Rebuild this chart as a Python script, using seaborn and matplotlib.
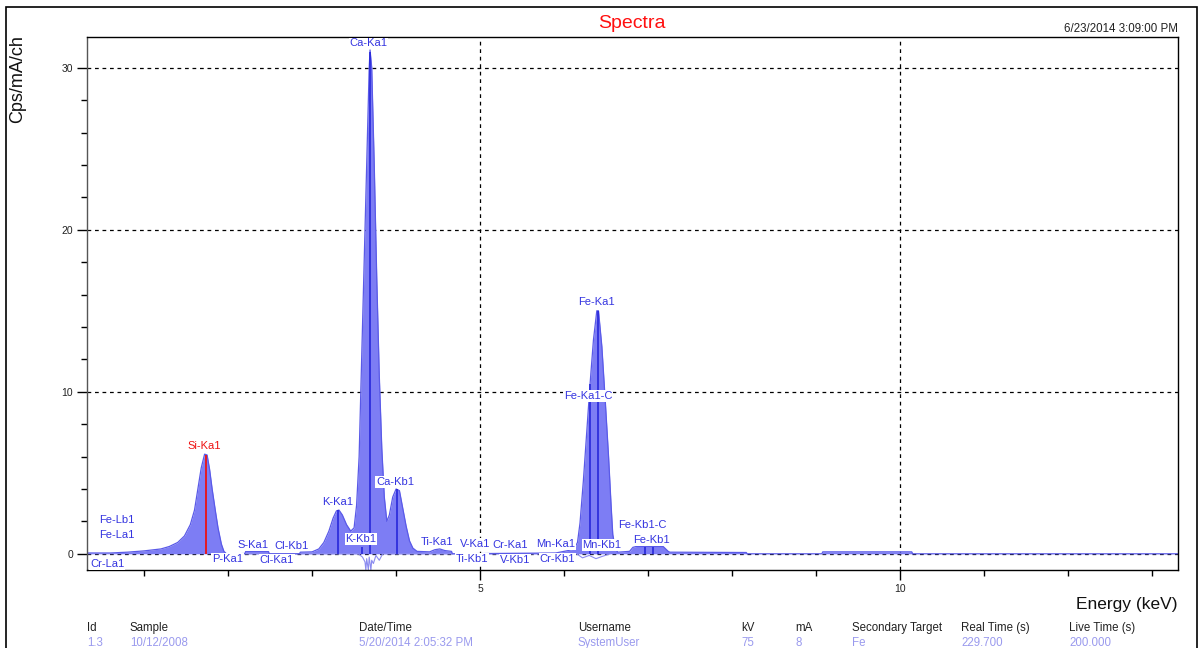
import numpy as np
import pandas as pd
import matplotlib
matplotlib.use("Agg")
import matplotlib.pyplot as plt
import matplotlib.patches as mpatches
from matplotlib.ticker import MultipleLocator, FixedLocator
import seaborn as sns

# ---------------- data ----------------
energy = [0.32, 0.60, 0.80, 1.00, 1.20, 1.30, 1.40, 1.48, 1.55, 1.60, 1.64, 1.68,
          1.72, 1.75, 1.78, 1.81, 1.85, 1.88, 1.92, 1.95, 1.98, 2.05, 2.10, 2.20,
          2.21, 2.48, 2.49, 2.85, 2.86, 3.00, 3.08, 3.14, 3.20, 3.25, 3.29, 3.32,
          3.36, 3.41, 3.46, 3.50, 3.53, 3.56, 3.58, 3.62, 3.65, 3.68, 3.69, 3.71,
          3.74, 3.77, 3.80, 3.83, 3.86, 3.89, 3.92, 3.96, 4.00, 4.04, 4.08, 4.12,
          4.16, 4.20, 4.25, 4.40, 4.46, 4.52, 4.58, 4.66, 4.67, 5.90, 6.05, 6.12,
          6.16, 6.19, 6.23, 6.27, 6.31, 6.35, 6.39, 6.41, 6.45, 6.49, 6.53, 6.56,
          6.58, 6.61, 6.64, 6.78, 6.82, 6.86, 7.18, 7.24, 7.26, 8.17, 8.18, 9.07,
          9.08, 10.14, 10.15, 13.31]
counts = [0.05, 0.05, 0.10, 0.18, 0.30, 0.45, 0.70, 1.10, 1.80, 2.70, 4.00, 5.30,
          6.15, 6.10, 5.20, 4.00, 2.60, 1.60, 0.60, 0.15, 0.00, 0.00, 0.00, 0.02,
          0.15, 0.15, 0.00, 0.00, 0.10, 0.12, 0.30, 0.70, 1.40, 2.20, 2.65, 2.70,
          2.40, 1.80, 1.40, 1.60, 3.00, 6.00, 10.0, 18.0, 24.0, 30.0, 31.1, 30.0,
          24.0, 17.0, 11.0, 6.50, 3.50, 2.00, 2.40, 3.50, 4.00, 3.90, 2.80, 1.70,
          0.80, 0.35, 0.15, 0.12, 0.25, 0.30, 0.20, 0.15, 0.00, 0.05, 0.20, 0.30,
          0.70, 1.90, 4.50, 7.50, 10.5, 13.2, 15.0, 15.0, 12.8, 9.50, 6.00, 3.00,
          1.20, 0.30, 0.10, 0.15, 0.40, 0.45, 0.45, 0.15, 0.10, 0.08, 0.00, 0.00,
          0.12, 0.12, 0.00, 0.00]

residual_energy = [1.93, 1.96, 1.98, 2.00, 2.02, 2.05, 2.08, 3.55, 3.60, 3.63, 3.64,
                   3.65, 3.67, 3.68, 3.70, 3.71, 3.73, 3.76, 3.80, 3.84, 6.15, 6.22,
                   6.30, 6.38, 6.46, 6.55]
residual_counts = [0.00, -0.25, -0.05, -0.30, -0.10, -0.25, 0.00, 0.00, -0.20, -0.50,
                   -1.00, -0.30, -1.00, -0.20, -1.00, -0.40, -0.60, -0.10, -0.40, 0.00,
                   0.00, -0.25, -0.10, -0.30, -0.15, 0.00]

marker_energy = [3.31, 3.60, 3.69, 4.01, 6.31, 6.40, 6.96, 7.06]
marker_height = [2.70, 0.40, 31.0, 4.00, 10.5, 15.0, 0.45, 0.45]
si_energy = [1.74]
si_height = [6.10]

label_text = ["Ca-Ka1", "Si-Ka1", "Fe-Lb1", "Fe-La1", "Cr-La1", "P-Ka1", "S-Ka1",
              "Cl-Kb1", "Cl-Ka1", "K-Ka1", "K-Kb1", "Ca-Kb1", "Ti-Ka1", "Ti-Kb1",
              "V-Ka1", "V-Kb1", "Cr-Ka1", "Cr-Kb1", "Mn-Ka1", "Mn-Kb1", "Fe-Ka1",
              "Fe-Ka1-C", "Fe-Kb1-C", "Fe-Kb1"]
label_energy = [3.67, 1.71, 0.68, 0.68, 0.56, 1.99, 2.30, 2.75, 2.58, 3.30, 3.58,
                3.99, 4.49, 4.90, 4.94, 5.42, 5.36, 5.92, 5.90, 6.45, 6.39, 6.29,
                6.93, 7.04]
label_level = [31.5, 6.67, 2.10, 1.17, -0.62, -0.31, 0.56, 0.50, -0.37, 3.21, 0.92,
               4.44, 0.74, -0.31, 0.62, -0.37, 0.56, -0.31, 0.62, 0.56, 15.56,
               9.75, 1.79, 0.86]

info_headers = ["Id", "Sample", "Date/Time", "Username", "kV", "mA",
                "Secondary Target", "Real Time (s)", "Live Time (s)"]
info_values = ["1.3", "10/12/2008", "5/20/2014 2:05:32 PM", "SystemUser", "75", "8",
               "Fe", "229.700", "200.000"]
info_x_px = [87, 130, 359, 578, 741, 795, 852, 961, 1069]

# ---------------- figure ----------------
sns.set_theme(style="white")
plt.rcParams["font.family"] = ["Liberation Sans", "DejaVu Sans"]

W, H = 1203, 648
fig = plt.figure(figsize=(W / 100, H / 100), dpi=100)
ax = fig.add_axes([87 / W, 1 - 570 / H, (1178 - 87) / W, (570 - 37) / H])

FILL = "#7d7df4"
EDGE = "#5a5ae8"
LINE = "#2020d8"
TXT = "#3434e0"

df = pd.DataFrame({"energy": energy, "counts": counts})
res = pd.DataFrame({"energy": residual_energy, "counts": residual_counts})

ax.fill_between(df["energy"], 0, df["counts"], color=FILL, lw=0, zorder=2)
sns.lineplot(data=df, x="energy", y="counts", sort=False, estimator=None,
             color=EDGE, lw=0.9, ax=ax, zorder=3)
sns.lineplot(data=res, x="energy", y="counts", sort=False, estimator=None,
             color="#8c8cf0", lw=0.8, ax=ax, zorder=2)

ax.vlines(marker_energy, 0, marker_height, color=LINE, lw=1.1, zorder=4)
ax.vlines(si_energy, 0, si_height, color="#ee1111", lw=1.3, zorder=4)

for t, e, l in zip(label_text, label_energy, label_level):
    col = "#ee1111" if t == "Si-Ka1" else TXT
    ax.text(e, l, t, color=col, fontsize=8, ha="center", va="center", zorder=6,
            clip_on=False,
            bbox=dict(facecolor="white", edgecolor="none", pad=0.6))

ax.set_xlim(0.32, 13.31)
ax.set_ylim(-1.0, 31.9)
ax.xaxis.set_major_locator(FixedLocator([5, 10]))
ax.xaxis.set_minor_locator(MultipleLocator(1))
ax.yaxis.set_major_locator(FixedLocator([0, 10, 20, 30]))
ax.yaxis.set_minor_locator(MultipleLocator(2))
ax.tick_params(axis="both", which="major", direction="out", length=7, width=1,
               color="black", labelsize=7.5, labelcolor="#222222", pad=3,
               bottom=True, left=True)
ax.tick_params(axis="both", which="minor", direction="out", length=4, width=1,
               color="black", bottom=True, left=True)
ax.set_xlabel("")
ax.set_ylabel("")

ax.grid(True, which="major", color="black", lw=0.9, linestyle=(0, (3, 3)))
ax.set_axisbelow(True)
for s in ax.spines.values():
    s.set_color("black")
    s.set_linewidth(1)
    s.set_zorder(5)
ax.spines["left"].set_color("#555555")

# texts
fig.text(632 / W, 1 - 24 / H, "Spectra", color="#ff1010", fontsize=14,
         ha="center", va="center")
fig.text(1178 / W, 1 - 29 / H, "6/23/2014 3:09:00 PM", color="#222222",
         fontsize=8.3, ha="right", va="center")
fig.text(18 / W, 1 - 35 / H, "Cps/mA/ch", color="#111111", fontsize=13,
         rotation=90, ha="center", va="top")
fig.text(1178 / W, 1 - 604 / H, "Energy (keV)", color="#111111", fontsize=12.5,
         ha="right", va="center")

for hx, hd, hv in zip(info_x_px, info_headers, info_values):
    fig.text(hx / W, 1 - 628 / H, hd, color="#222222", fontsize=8.3,
             ha="left", va="center")
    fig.text(hx / W, 1 - 643 / H, hv, color="#9a9aee", fontsize=8.3,
             ha="left", va="center")

# outer frame
frame = mpatches.Rectangle((6 / W, -0.02), (1197 - 6) / W, (H - 7) / H + 0.02,
                           transform=fig.transFigure, fill=False,
                           edgecolor="black", lw=1.2, clip_on=False)
fig.patches.append(frame)

fig.savefig("out.png", dpi=100)
